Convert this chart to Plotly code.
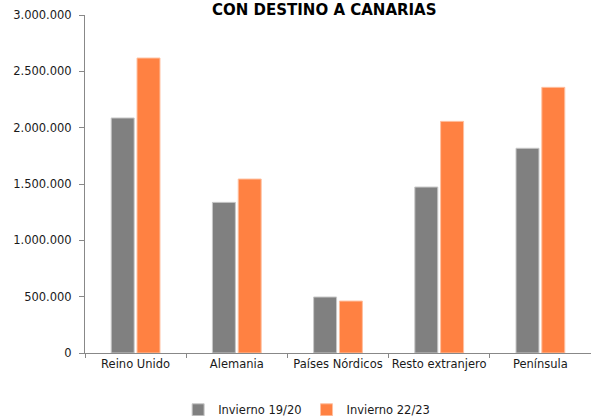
import plotly.graph_objects as go

categories = ["Reino Unido", "Alemania", "Países Nórdicos", "Resto extranjero", "Península"]
invierno_19_20 = [2086000, 1337000, 497000, 1473000, 1817000]
invierno_22_23 = [2618000, 1544000, 461000, 2056000, 2358000]
series_names = ["Invierno 19/20", "Invierno 22/23"]
title_text = "CON DESTINO A CANARIAS"

FONT = "DejaVu Sans, Verdana, sans-serif"
TXT = "#1a1a1a"

fig = go.Figure()
fig.add_trace(go.Bar(
    x=categories, y=invierno_19_20, name=series_names[0],
    marker=dict(color="#808080", line=dict(color="#c8c8c8", width=1)),
))
fig.add_trace(go.Bar(
    x=categories, y=invierno_22_23, name=series_names[1],
    marker=dict(color="#ff8142", line=dict(color="#ffc0a0", width=1)),
))

fig.update_layout(
    width=591, height=416,
    margin=dict(l=85, r=0, t=15, b=63, autoexpand=False),
    paper_bgcolor="white", plot_bgcolor="white",
    barmode="group", bargap=0.49, bargroupgap=0.11,
    separators=",.",
    font=dict(family=FONT, size=11.5, color=TXT),
    showlegend=True,
    legend=dict(orientation="h", x=0.438, xanchor="center", y=-0.168, yanchor="middle",
                font=dict(size=11.5, color=TXT), itemwidth=30, traceorder="normal"),
    xaxis=dict(showline=True, linecolor="#888888", linewidth=1, ticks="outside",
               tickson="boundaries", ticklen=4, tickcolor="#888888", showgrid=False,
               tickangle=0, automargin=False,
               tickfont=dict(size=11.5, color=TXT)),
    yaxis=dict(range=[0, 3000000], dtick=500000, tickformat=",.0f", showline=True,
               linecolor="#888888", linewidth=1, ticks="outside", ticklen=5,
               tickcolor="#888888", showgrid=False, zeroline=False, automargin=False,
               ticklabelstandoff=5,
               tickfont=dict(size=11.5, color=TXT)),
    annotations=[dict(text="<b>" + title_text + "</b>", xref="paper", yref="paper",
                      x=0.474, y=1.048, xanchor="center", yanchor="top",
                      showarrow=False, font=dict(size=15, color="black", family=FONT))],
)

fig.write_html("out.html", config={"displayModeBar": False},
               post_script="document.body.style.margin='0';")
